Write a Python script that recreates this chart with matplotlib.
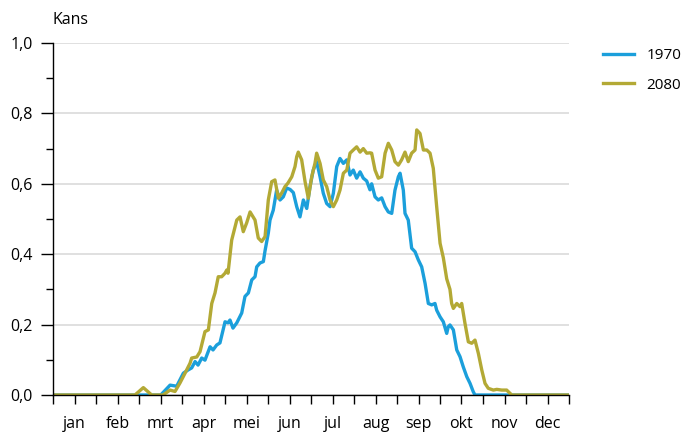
import numpy as np
import matplotlib
matplotlib.use('Agg')
import matplotlib.pyplot as plt
from matplotlib.ticker import MultipleLocator, FixedLocator, FuncFormatter, NullFormatter

plt.rcParams['font.family'] = ['Open Sans', 'DejaVu Sans']

maanden = ['jan', 'feb', 'mrt', 'apr', 'mei', 'jun',
           'jul', 'aug', 'sep', 'okt', 'nov', 'dec']

# ---- 1970 (dag van het jaar, kans) ----
dag_1970 = [0, 76.2, 82.8, 87.5, 92.2, 95.5, 98.1, 100.5, 102.6, 105.2, 107.5,
            111.1, 113.2, 115.8, 118.1, 121.7, 123.8, 125.2, 127.3, 130, 133.5,
            135.8, 138.2, 140.6, 142.9, 144.1, 146.4, 148.8, 150, 152.3, 153.5,
            155.8, 158.2, 160.6, 162.9, 165.3, 167.7, 170, 172.4, 174.7, 177.1,
            179.5, 181.8, 184.1, 186.5, 188.9, 191.2, 193.6, 196, 198.3, 200.7,
            203, 205.4, 207.8, 210.1, 212.4, 214.8, 217.2, 219.5, 221.9, 224.2,
            225.4, 227.8, 230.1, 232.5, 234.9, 237.2, 239.6, 241.9, 244.3, 245.5,
            247.8, 249, 251.3, 253.7, 256.1, 258.4, 260.8, 263.2, 265.5, 267.9,
            270.2, 271.4, 273.8, 276.1, 278.5, 279.6, 280.8, 283.2, 285.6, 287.9,
            290.2, 292.7, 295, 297.3, 298.5, 365]
kans_1970 = [0, 0, 0.028, 0.025, 0.062, 0.071, 0.077, 0.095, 0.085, 0.105, 0.099,
             0.137, 0.128, 0.142, 0.148, 0.208, 0.205, 0.213, 0.19, 0.205, 0.233,
             0.28, 0.29, 0.327, 0.336, 0.364, 0.375, 0.379, 0.41, 0.46, 0.497,
             0.525, 0.582, 0.554, 0.563, 0.588, 0.584, 0.575, 0.535, 0.506, 0.554,
             0.53, 0.592, 0.639, 0.663, 0.62, 0.573, 0.544, 0.535, 0.573, 0.649,
             0.672, 0.658, 0.668, 0.625, 0.639, 0.616, 0.634, 0.616, 0.608, 0.583,
             0.6, 0.563, 0.554, 0.56, 0.535, 0.52, 0.516, 0.582, 0.62, 0.63,
             0.582, 0.516, 0.497, 0.417, 0.407, 0.384, 0.364, 0.317, 0.26, 0.256,
             0.26, 0.241, 0.222, 0.208, 0.175, 0.194, 0.199, 0.185, 0.128, 0.109,
             0.08, 0.052, 0.033, 0.009, 0, 0]

# ---- 2080 ----
dag_2080 = [0, 58, 63.9, 69.8, 77.8, 82.8, 86.3, 89.8, 93.4, 96.9, 98.1, 101.7,
            104, 107.5, 109.9, 112.3, 114.6, 116.9, 119.3, 121.7, 122.9, 123.8,
            126.4, 130, 132.3, 134.6, 137, 139.4, 142.9, 145.2, 147.6, 150, 152.3,
            154.7, 157, 159.4, 161.8, 164.1, 166.2, 168.9, 171.2, 172.4, 173.5,
            175.9, 178.3, 180.6, 183, 185.3, 186.5, 188.9, 191.2, 193.6, 196,
            198.3, 200.7, 203, 205.4, 207.8, 210.1, 212.4, 214.8, 217.2, 219.5,
            221.9, 224.2, 225.4, 227.8, 230.1, 232.5, 234.9, 237.2, 239.6, 241.9,
            244.3, 246.6, 249, 251.3, 253.7, 256.1, 257.3, 259.6, 262, 264.4,
            266.7, 269, 271.4, 273.8, 276.1, 278.5, 280.8, 282, 283.2, 285.6,
            287.9, 289.1, 291.4, 293.8, 296.2, 298.5, 300.9, 303.3, 305.6, 307.9,
            311.5, 313.9, 317.4, 320.9, 324.5, 365]
kans_2080 = [0, 0, 0.021, 0, 0, 0.014, 0.01, 0.034, 0.062, 0.09, 0.105, 0.108,
             0.123, 0.18, 0.185, 0.26, 0.29, 0.336, 0.336, 0.346, 0.355, 0.346,
             0.44, 0.497, 0.506, 0.464, 0.489, 0.52, 0.497, 0.446, 0.436, 0.45, 0.554,
             0.606, 0.611, 0.559, 0.574, 0.592, 0.602, 0.62, 0.649, 0.677, 0.69,
             0.668, 0.606, 0.559, 0.62, 0.658, 0.687, 0.658, 0.611, 0.592, 0.554,
             0.535, 0.554, 0.582, 0.63, 0.639, 0.687, 0.696, 0.705, 0.69, 0.7,
             0.687, 0.688, 0.687, 0.639, 0.616, 0.62, 0.687, 0.715, 0.696, 0.663,
             0.653, 0.668, 0.69, 0.663, 0.687, 0.696, 0.753, 0.743, 0.696, 0.696,
             0.687, 0.644, 0.535, 0.431, 0.39, 0.33, 0.3, 0.26, 0.246, 0.26,
             0.251, 0.26, 0.204, 0.151, 0.147, 0.156, 0.118, 0.071, 0.033, 0.019,
             0.014, 0.016, 0.014, 0.014, 0, 0]

blauw = '#1b9fdb'
olijf = '#b3a935'

fig = plt.figure(figsize=(6.86, 4.34), dpi=100)
ax = fig.add_axes([53/686, 1-395/434, 516/686, 352/434])

ax.plot(dag_1970, kans_1970, color=blauw, linewidth=2.4, label='1970',
        solid_joinstyle='round', zorder=3)
ax.plot(dag_2080, kans_2080, color=olijf, linewidth=2.4, label='2080',
        solid_joinstyle='round', zorder=4)

ax.set_xlim(0, 365)
ax.set_ylim(0, 1.0)

# x-as: labels midden in de maand, streepjes elke halve maand
ax.xaxis.set_major_locator(FixedLocator([(2*i+1)*365/24 for i in range(12)]))
ax.xaxis.set_minor_locator(FixedLocator([i*365/12 for i in range(13)]))
ax.xaxis.set_major_formatter(FuncFormatter(lambda v, p: maanden[p] if p is not None and p < 12 else ''))
ax.xaxis.set_minor_formatter(NullFormatter())
ax.tick_params(axis='x', which='both', direction='out', length=6.5, width=1)
ax.tick_params(axis='x', which='major', pad=8.5, labelsize=11.5)

# y-as
ax.yaxis.set_major_locator(MultipleLocator(0.2))
ax.yaxis.set_minor_locator(MultipleLocator(0.1))
ax.yaxis.set_major_formatter(FuncFormatter(lambda v, p: ('%.1f' % v).replace('.', ',')))
ax.tick_params(axis='y', which='major', direction='out', length=8.5, width=1,
               labelsize=11.5, pad=6)
ax.tick_params(axis='y', which='minor', direction='out', length=5, width=1)

ax.grid(axis='y', which='major', color='#dddddd', linewidth=1.3)
ax.set_axisbelow(True)
for s in ['top', 'right']:
    ax.spines[s].set_visible(False)
for s in ['left', 'bottom']:
    ax.spines[s].set_linewidth(1)
    ax.spines[s].set_zorder(5)

fig.text(53/686, 1-20/434, 'Kans', fontsize=11.5, va='center', ha='left')

fig.legend(loc='upper left', bbox_to_anchor=(597/686, 1-42/434), frameon=False,
           fontsize=11, handlelength=2.0, handletextpad=0.85, labelspacing=0.95,
           borderaxespad=0)

fig.savefig('out.png', dpi=100)
